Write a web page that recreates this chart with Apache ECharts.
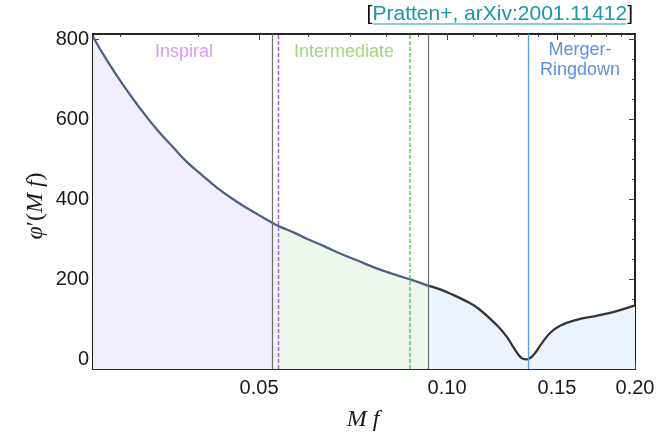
<!DOCTYPE html>
<html><head><meta charset="utf-8">
<script src="https://cdn.jsdelivr.net/npm/echarts@6/dist/echarts.min.js"></script>
<style>html,body{margin:0;padding:0;background:#fff}#c{width:660px;height:433px}</style>
</head><body><div id="c"></div>
<script>
// ---- data ----
const mf  = [0.0271, 0.0285, 0.0303, 0.0322, 0.0343, 0.0365, 0.0383, 0.0405, 0.0430, 0.0458, 0.0487, 0.0530, 0.0542, 0.0571, 0.0596, 0.0634, 0.0674, 0.0717, 0.0762, 0.0811, 0.0873, 0.0930, 0.0975, 0.1011, 0.1069, 0.1121, 0.1201, 0.1246, 0.1285, 0.1317, 0.1340, 0.1375, 0.1418, 0.1462, 0.1517, 0.1613, 0.1737, 0.1870, 0.2000];
const phi = [807, 749, 686, 629, 575, 529, 494, 461, 427, 397, 371, 338, 331, 316, 302, 284, 265, 248, 231, 216, 200, 185, 175, 165, 147, 128, 86, 57, 24, 3, 0, 11, 40, 66, 84, 99, 109, 121, 135];
const xRange = [0.0271, 0.2];
const yRange = [-24, 814];
const xMajorTicks = [0.05, 0.10, 0.15, 0.20];
const xTickLabels = ['0.05', '0.10', '0.15', '0.20'];
const xMinorTicks = [0.03, 0.04, 0.06, 0.07, 0.08, 0.09, 0.11, 0.12, 0.13, 0.14, 0.16, 0.17, 0.18, 0.19];
const yMajorTicks = [0, 200, 400, 600, 800];
const yMinorTicks = [50, 100, 150, 250, 300, 350, 450, 500, 550, 650, 700, 750];
const regionBounds = [0.053, 0.093];          // gray solid lines
const fMECO = 0.0542, fISCO = 0.0871, fRD = 0.1339;
const regionNames = ['Inspiral', 'Intermediate', 'Merger-\nRingdown'];
const legendSubs = ['MECO', 'ISCO', 'RD'];
const citation = 'Pratten+, arXiv:2001.11412';

// ---- build ----
const lg = Math.log10;
const pts = mf.map((m, i) => [lg(m), phi[i]]);
const seg = (a, b) => mf.map((m, i) => [m, i]).filter(([m]) => m >= a - 1e-9 && m <= b + 1e-9).map(([, i]) => pts[i]);
const dataPurple = seg(0, regionBounds[0]);
const dataGreen = seg(regionBounds[0], regionBounds[1]);
const dataBlue = seg(regionBounds[1], 1);
const dataLeft = seg(0, regionBounds[1]);

const TXT = '#1a1a1a';
const SANS = 'Liberation Sans, Arial, sans-serif';
const SERIF = 'Liberation Serif, Times New Roman, serif';
const SMOOTH = 0.45;

function xAxisCfg(pos, ticks, len, labels) {
  return {
    type: 'value', position: pos, min: lg(xRange[0]), max: lg(xRange[1]),
    axisLine: { show: true, onZero: false, lineStyle: { color: TXT, width: 1.6 } },
    axisTick: { show: true, inside: true, length: len, customValues: ticks.map(lg), lineStyle: { color: '#444', width: 1 } },
    axisLabel: labels ? {
      show: true, customValues: xMajorTicks.map(lg), margin: 9, fontSize: 20, color: TXT, fontFamily: SANS,
      formatter: v => { const k = xMajorTicks.findIndex(t => Math.abs(lg(t) - v) < 1e-6); return k >= 0 ? xTickLabels[k] : ''; }
    } : { show: false },
    splitLine: { show: false }, axisPointer: { show: false }
  };
}
function yAxisCfg(pos, ticks, len, labels) {
  return {
    type: 'value', position: pos, min: yRange[0], max: yRange[1],
    axisLine: { show: true, onZero: false, lineStyle: { color: TXT, width: 1.6 } },
    axisTick: { show: true, inside: true, length: len, customValues: ticks, lineStyle: { color: '#444', width: 1 } },
    axisLabel: labels ? { show: true, customValues: yMajorTicks, margin: 4, fontSize: 20, color: TXT, fontFamily: SANS } : { show: false },
    splitLine: { show: false }
  };
}

function area(data, color) {
  return { type: 'line', data, xAxisIndex: 0, yAxisIndex: 0, showSymbol: false, smooth: SMOOTH,
    lineStyle: { width: 0, opacity: 0 }, areaStyle: { color, opacity: 1, origin: 'start' }, z: 1, silent: true };
}
function vline(v, color, type, w) {
  return { xAxis: lg(v), lineStyle: { color, type, width: w } };
}

const legendColors = ['#8838dc', '#6cc272', '#68acec'];
const legendY = [279, 313, 347];
const graphics = [];
legendY.forEach((y, i) => {
  graphics.push({ type: 'rect', shape: { x: 104, y: y - 4, width: 7, height: 7 }, style: { fill: legendColors[i] } });
  graphics.push({ type: 'text', x: 117, y: y, style: { text: 'f', font: 'italic 24px ' + SERIF, fill: TXT, verticalAlign: 'middle' } });
  graphics.push({ type: 'text', x: 128, y: y + 2, style: { text: legendSubs[i], font: '15px ' + SERIF, fill: TXT, verticalAlign: 'middle' } });
});
graphics.push(
  { type: 'text', x: 184, y: 52, style: { text: regionNames[0], font: '18px ' + SANS, fill: '#d99bf0', align: 'center', verticalAlign: 'middle' } },
  { type: 'text', x: 344, y: 52, style: { text: regionNames[1], font: '18px ' + SANS, fill: '#a6d482', align: 'center', verticalAlign: 'middle' } },
  { type: 'text', x: 580, y: 60, style: { text: regionNames[2], font: '18px ' + SANS, lineHeight: 20, fill: '#5d8fe6', align: 'center', verticalAlign: 'middle' } },
  { type: 'text', x: 633, y: 14, style: { text: '{b|[}{l|' + citation + '}{b|]}', align: 'right', verticalAlign: 'middle',
      rich: { b: { fontSize: 21, fontFamily: SANS, fill: '#111' }, l: { fontSize: 21, fontFamily: SANS, fill: '#1b97a6' } } } },
  { type: 'line', shape: { x1: 373, y1: 24, x2: 626, y2: 24 }, style: { stroke: '#1b97a6', lineWidth: 1.2 } },
  { type: 'text', x: 363, y: 420, style: { text: 'M f', font: 'italic 24px ' + SERIF, fill: TXT, align: 'center', verticalAlign: 'middle' } },
  { type: 'text', x: 36, y: 206, rotation: Math.PI / 2, style: { text: '{i|φ}{n|′(}{i|M f}{n|)}', align: 'center', verticalAlign: 'middle',
      rich: { i: { fontSize: 24, fontStyle: 'italic', fontFamily: SERIF, fill: TXT }, n: { fontSize: 24, fontFamily: SERIF, fill: TXT } } } }
);

const chart = echarts.init(document.getElementById('c'), null, { renderer: 'canvas' });
chart.setOption({
  animation: false,
  backgroundColor: '#fff',
  grid: { left: 93, right: 25, top: 34, bottom: 64, containLabel: false },
  xAxis: [
    xAxisCfg('bottom', xMajorTicks, 6, true),
    xAxisCfg('bottom', xMinorTicks, 3, false),
    xAxisCfg('top', xMajorTicks, 6, false),
    xAxisCfg('top', xMinorTicks, 3, false)
  ],
  yAxis: [
    yAxisCfg('left', yMajorTicks, 6, true),
    yAxisCfg('left', yMinorTicks, 3, false),
    yAxisCfg('right', yMajorTicks, 6, false),
    yAxisCfg('right', yMinorTicks, 3, false)
  ],
  series: [
    area(dataPurple, '#f3eefc'),
    area(dataGreen, '#edf7eb'),
    area(dataBlue, '#ebf3fd'),
    { type: 'line', data: [], xAxisIndex: 0, yAxisIndex: 0, z: 2, silent: true,
      markLine: { silent: true, symbol: ['none', 'none'], label: { show: false }, animation: false,
        data: [
          vline(regionBounds[0], '#6e6e6e', 'solid', 1.2),
          vline(regionBounds[1], '#6e6e6e', 'solid', 1.2),
          vline(fMECO, '#9d5ce8', [4, 2], 1.4),
          vline(fISCO, '#5fcb62', [4, 2], 1.5),
          vline(fRD, '#5a9cf0', 'solid', 1.3)
        ] } },
    { type: 'line', data: dataLeft, xAxisIndex: 0, yAxisIndex: 0, showSymbol: false, smooth: SMOOTH, z: 3,
      lineStyle: { color: '#4f6184', width: 2.3 } },
    { type: 'line', data: dataBlue, xAxisIndex: 0, yAxisIndex: 0, showSymbol: false, smooth: SMOOTH, z: 3,
      lineStyle: { color: '#353538', width: 2.3 } }
  ],
  graphic: graphics
});
</script>
</body></html>
